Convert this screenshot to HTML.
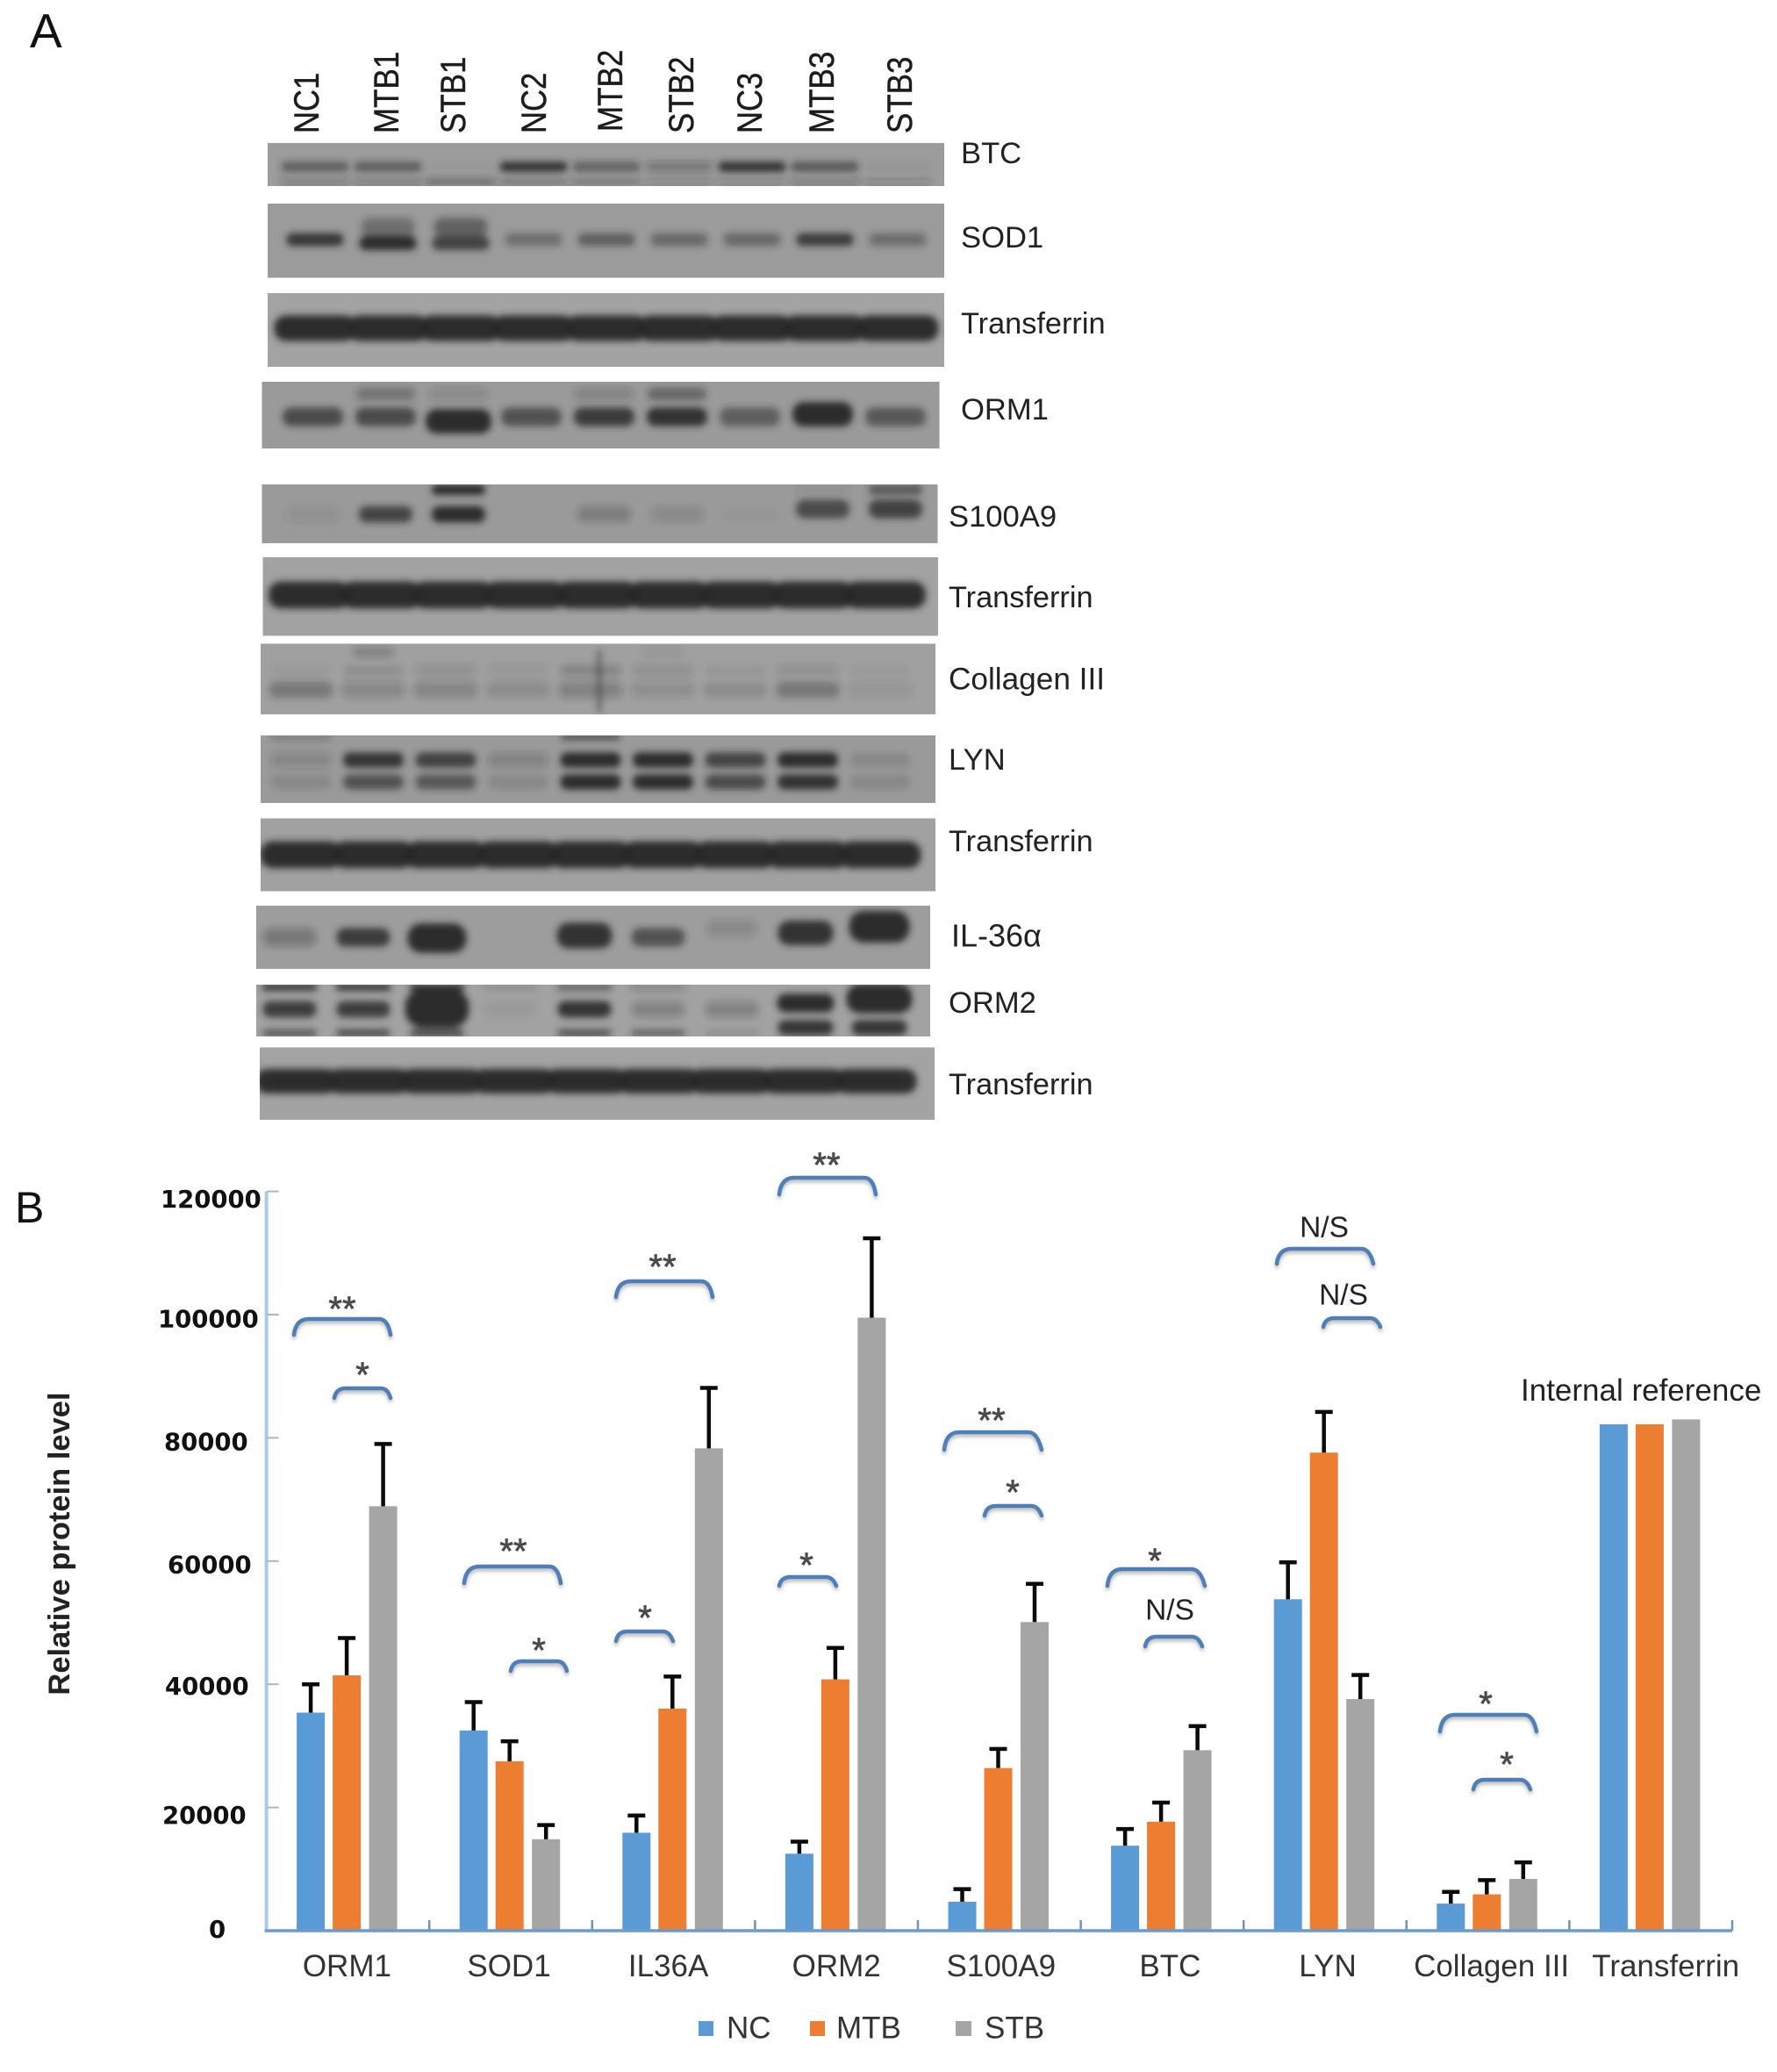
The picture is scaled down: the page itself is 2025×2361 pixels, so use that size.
<!DOCTYPE html>
<html lang="en">
<head>
<meta charset="utf-8">
<title>Western blots and relative protein levels</title>
<style>
html,body{margin:0;padding:0;background:#fff;}
svg{display:block;font-family:"Liberation Sans",Arial,sans-serif;}
.blot-label{font-size:34.6px;fill:#222;dominant-baseline:central;}
.tf{font-size:34.3px;}
.lane{font-size:33px;fill:#1c1c1c;stroke:#1c1c1c;stroke-width:.35px;}
.sig{font-size:40px;fill:#4a4a4a;stroke:#4a4a4a;stroke-width:.7px;text-anchor:middle;}
.ns{font-size:33.5px;fill:#222;text-anchor:middle;dominant-baseline:central;}
.bracket{fill:none;stroke:#4f7fb8;stroke-width:4.5;stroke-linecap:round;filter:drop-shadow(0 3px 2px rgba(90,90,90,.45));}
.legend-text{font-size:35px;fill:#333;dominant-baseline:central;}
</style>
</head>
<body>
<svg id="figure" xmlns="http://www.w3.org/2000/svg" width="2025" height="2361" viewBox="0 0 2025 2361">
  <defs>
    <filter id="soft" x="-10%" y="-30%" width="120%" height="160%"><feGaussianBlur stdDeviation="4"/></filter>
  </defs>
  <rect width="2025" height="2361" fill="#fff"/>

  <text x="34" y="54" font-size="55" fill="#111">A</text>
  <text x="17" y="1393" font-size="50" fill="#111">B</text>

  <g id="lanes">
    <text class="lane" transform="translate(363,152) rotate(-90) scale(1.05,1.22)">NC1</text>
    <text class="lane" transform="translate(454,152) rotate(-90) scale(1.06,1.22)">MTB1</text>
    <text class="lane" transform="translate(530,152) rotate(-90) scale(1.06,1.22)">STB1</text>
    <text class="lane" transform="translate(622,152) rotate(-90) scale(1.05,1.22)">NC2</text>
    <text class="lane" transform="translate(709,150) rotate(-90) scale(1.06,1.22)">MTB2</text>
    <text class="lane" transform="translate(790,152) rotate(-90) scale(1.06,1.22)">STB2</text>
    <text class="lane" transform="translate(868,152) rotate(-90) scale(1.05,1.22)">NC3</text>
    <text class="lane" transform="translate(950,152) rotate(-90) scale(1.06,1.22)">MTB3</text>
    <text class="lane" transform="translate(1039,152) rotate(-90) scale(1.06,1.22)">STB3</text>
  </g>

  <g id="blots"></g>

  <g>
    <text class="blot-label" x="1095" y="175">BTC</text>
    <text class="blot-label" x="1095" y="271">SOD1</text>
    <text class="blot-label tf" x="1095" y="369">Transferrin</text>
    <text class="blot-label" x="1095" y="467">ORM1</text>
    <text class="blot-label" x="1081" y="589">S100A9</text>
    <text class="blot-label tf" x="1081" y="681">Transferrin</text>
    <text class="blot-label" x="1081" y="774" style="font-size:35.2px">Collagen III</text>
    <text class="blot-label" x="1081" y="866">LYN</text>
    <text class="blot-label tf" x="1081" y="959">Transferrin</text>
    <text class="blot-label" x="1084" y="1066" style="font-size:36px">IL-36α</text>
    <text class="blot-label" x="1081" y="1143">ORM2</text>
    <text class="blot-label tf" x="1081" y="1236">Transferrin</text>
  </g>

  <text transform="translate(79,1759) rotate(-90)" text-anchor="middle" font-size="34.5" font-weight="bold" fill="#222">Relative protein level</text>

  <g id="chart"></g>

  <g>
    <path class="bracket" d="M335,1521 Q337,1503 352,1503 L432,1503 Q442,1503 445,1521"/>
    <text class="sig" x="390" y="1505">**</text>
    <path class="bracket" d="M381,1593 Q383,1582 394,1582 L434,1582 Q442,1582 445,1593"/>
    <text class="sig" x="413" y="1580">*</text>

    <path class="bracket" d="M529,1804 Q531,1785 546,1785 L626,1785 Q636,1785 639,1804"/>
    <text class="sig" x="585" y="1781">**</text>
    <path class="bracket" d="M582,1904 Q584,1893 595,1893 L635,1893 Q643,1893 646,1904"/>
    <text class="sig" x="614" y="1894">*</text>

    <path class="bracket" d="M702,1478 Q704,1460 719,1460 L799,1460 Q809,1460 812,1478"/>
    <text class="sig" x="755" y="1457">**</text>
    <path class="bracket" d="M702,1870 Q704,1859 715,1859 L755,1859 Q763,1859 767,1870"/>
    <text class="sig" x="735" y="1857">*</text>

    <path class="bracket" d="M888,1361 Q890,1342 905,1342 L985,1342 Q995,1342 998,1361"/>
    <text class="sig" x="942" y="1341">**</text>
    <path class="bracket" d="M888,1807 Q890,1797 901,1797 L941,1797 Q949,1797 953,1807"/>
    <text class="sig" x="919" y="1797">*</text>

    <path class="bracket" d="M1076,1652 Q1078,1632 1093,1632 L1172,1632 Q1182,1632 1187,1652"/>
    <text class="sig" x="1130" y="1632">**</text>
    <path class="bracket" d="M1122,1727 Q1124,1716 1135,1716 L1175,1716 Q1183,1716 1187,1727"/>
    <text class="sig" x="1154" y="1714">*</text>

    <path class="bracket" d="M1262,1807 Q1264,1788 1279,1788 L1358,1788 Q1368,1788 1373,1807"/>
    <text class="sig" x="1316" y="1792">*</text>
    <path class="bracket" d="M1305,1876 Q1307,1865 1318,1865 L1358,1865 Q1366,1865 1370,1876"/>
    <text class="ns" x="1333" y="1835">N/S</text>

    <path class="bracket" d="M1455,1440 Q1457,1423 1472,1423 L1551,1423 Q1561,1423 1565,1440"/>
    <text class="ns" x="1509" y="1399">N/S</text>
    <path class="bracket" d="M1508,1512 Q1510,1502 1521,1502 L1561,1502 Q1569,1502 1573,1512"/>
    <text class="ns" x="1531" y="1476">N/S</text>

    <path class="bracket" d="M1641,1973 Q1643,1954 1658,1954 L1737,1954 Q1747,1954 1751,1973"/>
    <text class="sig" x="1693" y="1955">*</text>
    <path class="bracket" d="M1679,2039 Q1681,2028 1692,2028 L1732,2028 Q1740,2028 1744,2039"/>
    <text class="sig" x="1717" y="2024">*</text>
  </g>

  <text x="1733" y="1596" font-size="35" fill="#222">Internal reference</text>

  <g>
    <rect x="796" y="2303" width="17" height="17" fill="#5b9bd5"/>
    <text class="legend-text" x="828" y="2311">NC</text>
    <rect x="923" y="2303" width="17" height="17" fill="#ed7d31"/>
    <text class="legend-text" x="953" y="2311">MTB</text>
    <rect x="1089" y="2303" width="18" height="17" fill="#a5a5a5"/>
    <text class="legend-text" x="1122" y="2311">STB</text>
  </g>
</svg>

<script>
/* ---------- chart data ---------- */
const categories = ["ORM1","SOD1","IL36A","ORM2","S100A9","BTC","LYN","Collagen III","Transferrin"];
const ncValues  = [35400,32500,15900,12500,4700,13800,53800,4400,82200];
const mtbValues = [41450,27500,36050,40800,26400,17700,77600,5900,82200];
const stbValues = [68900,14850,78300,99500,50100,29300,37600,8400,83000];
const ncErrors  = [4600,4600,2800,1960,2050,2700,6000,1900,0];
const mtbErrors = [6050,3250,5200,5100,3100,3100,6600,2300,0];
const stbErrors = [10100,2300,9800,12900,6200,3900,3900,2700,0];
const yTickValues = [0,20000,40000,60000,80000,100000,120000];
/* hand-placement offsets of the printed labels in the source figure */
const categoryLabelNudge = [-1,-2,-6,0,2,9,3,4,17];
const yLabelNudgeX = [-1,-1,2,5,1,-6,-3];
const yLabelNudgeY = [6,16.5,10,11.5,12,12.5,16.5];

/* ---------- western blot bands ---------- */
const blotRows = [
 {n:"btc",x:305,y:163,w:771,h:49,bg:"#9c9c9c",l0:54,st:83,bands:[
  {cy:190,h:8,w:70,o:[.55,.55,.03,.9,.5,.3,.9,.6,.05]},
  {cy:207,h:4,w:72,o:[.3,.3,.45,.35,.35,.2,.2,.3,.2]}]},
 {n:"sod1",x:305,y:232,w:771,h:84.5,bg:"#9b9b9b",l0:54,st:83,bands:[
  {cy:273,h:10,w:58,o:[.9,0,0,.4,.55,.45,.45,.85,.42]},
  {cy:277,h:11,w:58,o:[0,1,.8,0,0,0,0,0,0]},
  {cy:259,h:15,w:54,o:[0,.4,.5,0,0,0,0,0,0]}]},
 {n:"transferrin-1",x:305,y:334,w:771,h:84,bg:"#a3a3a3",l0:54,st:83,bands:[
  {cy:374,h:21,w:86,o:[1,1,1,1,1,1,1,1,1]}]},
 {n:"orm1",x:298.5,y:435,w:772,h:76,bg:"#9a9a9a",l0:58,st:83,bands:[
  {cy:475,h:15,w:62,o:[.7,.7,0,.65,.85,.95,.55,0,.6]},
  {cy:480,h:20,w:68,o:[0,0,1,0,0,0,0,0,0]},
  {cy:472,h:20,w:62,o:[0,0,0,0,0,0,0,1,0]},
  {cy:449,h:10,w:60,o:[0,.35,.15,0,.2,.45,0,0,0]}]},
 {n:"s100a9",x:298.5,y:552,w:770,h:67,bg:"#9a9a9a",l0:58,st:83,bands:[
  {cy:586,h:13,w:54,o:[.1,.75,1,0,.25,.15,.03,0,0]},
  {cy:580,h:15,w:54,o:[0,0,0,0,0,0,0,.7,.8]},
  {cy:558,h:8,w:54,o:[0,0,1,0,0,0,0,.1,.6]}]},
 {n:"transferrin-2",x:299.5,y:635,w:769.5,h:89.5,bg:"#a2a2a2",l0:53,st:82,bands:[
  {cy:678,h:22,w:86,o:[1,1,1,1,1,1,1,1,1]}]},
 {n:"collagen-iii",x:297,y:733.5,w:769,h:80.5,bg:"#a0a0a0",l0:46,st:82.5,bands:[
  {cy:786,h:13,w:66,o:[.35,.2,.22,.17,.25,.15,.12,.35,.1]},
  {cy:764,h:8,w:62,o:[.05,.12,.15,.1,.25,.15,.07,.15,.05]},
  {cy:743,h:8,w:40,o:[0,.25,0,0,0,.1,0,0,0]}]},
 {n:"lyn",x:297,y:838,w:769,h:77,bg:"#9a9a9a",l0:46,st:82.5,bands:[
  {cy:866,h:12,w:62,o:[.18,.9,.8,.2,1,1,.75,1,.12]},
  {cy:891,h:12,w:62,o:[.12,.65,.6,.12,1,1,.7,.95,.12]},
  {cy:840,h:3,w:60,o:[.4,0,0,0,.9,0,0,0,0]}]},
 {n:"transferrin-3",x:297,y:932.5,w:769,h:83,bg:"#a1a1a1",l0:46,st:82.5,bands:[
  {cy:974,h:22,w:86,o:[1,1,1,1,1,1,1,1,1]}]},
 {n:"il36a",x:292,y:1032,w:768,h:72,bg:"#9d9d9d",l0:38,st:84,bands:[
  {cy:1068,h:15,w:54,o:[.3,.85,0,0,0,.65,0,0,0]},
  {cy:1069,h:24,w:60,o:[0,0,1,0,0,0,0,0,0]},
  {cy:1066,h:21,w:56,o:[0,0,0,0,.95,0,0,0,0]},
  {cy:1058,h:14,w:50,o:[0,0,0,0,0,0,.17,0,0]},
  {cy:1063,h:20,w:56,o:[0,0,0,0,0,0,0,.95,0]},
  {cy:1056,h:26,w:62,o:[0,0,0,0,0,0,0,0,1]}]},
 {n:"orm2",x:292,y:1122,w:768,h:59,bg:"#a2a2a2",l0:38,st:84,bands:[
  {cy:1150,h:13,w:54,o:[.85,.85,0,.05,.95,.25,.25,0,0]},
  {cy:1149,h:32,w:66,o:[0,0,1,0,0,0,0,0,0]},
  {cy:1143,h:15,w:58,o:[0,0,0,0,0,0,0,1,0]},
  {cy:1138,h:24,w:68,o:[0,0,0,0,0,0,0,0,1]},
  {cy:1125,h:5,w:56,o:[.95,.95,.95,.12,.5,.25,0,0,0]},
  {cy:1177,h:5,w:54,o:[.65,.75,.75,0,.7,.55,.12,0,0]},
  {cy:1171,h:12,w:56,o:[0,0,0,0,0,0,0,.9,.9]}]},
 {n:"transferrin-4",x:296,y:1193.5,w:769,h:82.5,bg:"#a3a3a3",l0:42,st:82.5,bands:[
  {cy:1232,h:20,w:86,o:[1,1,1,1,1,1,1,1,1]}]}
];

const SVGNS = "http://www.w3.org/2000/svg";
function make(tag, attrs, parent){
  const node = document.createElementNS(SVGNS, tag);
  for (const k in attrs) node.setAttribute(k, attrs[k]);
  parent.appendChild(node);
  return node;
}

/* ---------- blots ---------- */
const blotsGroup = document.getElementById("blots");
const defs = document.querySelector("defs");
blotRows.forEach(function(b){
  const clip = make("clipPath", {id:"clip-"+b.n}, defs);
  make("rect", {x:b.x,y:b.y,width:b.w,height:b.h}, clip);
  const g = make("g", {"clip-path":"url(#clip-"+b.n+")"}, blotsGroup);
  
  
  make("rect", {x:b.x,y:b.y,width:b.w,height:b.h,fill:b.bg}, g);
  const inner = make("g", {filter:"url(#soft)"}, g);
  b.bands.forEach(function(band){
    band.o.forEach(function(op,i){
      if (op <= 0) return;
      const cx = b.x + b.l0 + b.st * i;
      const h = band.h * 1.35 + 1;
      const w = band.w + 7;
      make("rect", {x:cx-w/2, y:band.cy-h/2, width:w, height:h, rx:h/2.2, fill:"#262626", opacity:op*0.96}, inner);
    });
  });
  if (b.n === "collagen-iii") {
    make("rect", {x:681,y:741,width:4,height:70,fill:"#333",opacity:.7}, inner);
  }
});

/* ---------- chart ---------- */
const chart = document.getElementById("chart");
const axisLeft = 303.6, axisRight = 1974, axisBottom = 2200, axisTop = 1357.6, yMax = 120000;
const bandWidth = (axisRight - axisLeft) / categories.length;
const barWidth = 32;
const seriesOffsets = [34.5, 75.5, 117];
const seriesNames = ["nc","mtb","stb"];
const seriesColors = ["#5b9bd5","#ed7d31","#a5a5a5"];
const seriesValues = [ncValues, mtbValues, stbValues];
const seriesErrors = [ncErrors, mtbErrors, stbErrors];
function yScale(v){ return axisBottom - v * (axisBottom - axisTop) / yMax; }
function bandStart(i){ return axisLeft + bandWidth * i; }

const yAxis = make("line", {x1:axisLeft,y1:axisTop,x2:axisLeft,y2:axisBottom,stroke:"#a9cbe8","stroke-width":4}, chart);



yTickValues.forEach(function(t,k){
  const y = yScale(t);
  if (t > 0) {
    const tick = make("line", {x1:axisLeft,y1:y,x2:axisLeft+14,y2:y,stroke:"#a4b8cc","stroke-width":2}, chart);
    
    
  }
  const label = make("text", {x:(t === 0 ? 239 : 186) + yLabelNudgeX[k], y:y + yLabelNudgeY[k] + 2, "font-family":"DejaVu Sans, sans-serif","font-weight":"bold","font-size":27.5, fill:"#111"}, chart);
  
  
  label.textContent = String(t);
});

categories.forEach(function(cat,i){
  const start = bandStart(i);
  seriesValues.forEach(function(vals,s){
    const x = start + seriesOffsets[s];
    const top = yScale(vals[i]);
    const bar = make("rect", {x:x,y:top,width:barWidth,height:axisBottom-top,fill:seriesColors[s]}, chart);
    
    
    const err = seriesErrors[s][i];
    if (err > 0) {
      const cx = x + barWidth/2;
      const errTop = yScale(vals[i] + err);
      const stem = make("line", {x1:cx,y1:top,x2:cx,y2:errTop,stroke:"#0a0a0a","stroke-width":4.5}, chart);
      
      
      const cap = make("line", {x1:cx-10,y1:errTop,x2:cx+10,y2:errTop,stroke:"#0a0a0a","stroke-width":4.5}, chart);
      
      
    }
  });
  const label = make("text", {x:start+bandWidth/2+categoryLabelNudge[i], y:2252, "text-anchor":"middle","font-size":35, fill:"#333"}, chart);
  
  
  label.textContent = cat;
  const tx = bandStart(i+1);
  const tick = make("line", {x1:tx,y1:axisBottom,x2:tx,y2:axisBottom-12,stroke:"#6f93b5","stroke-width":2.5}, chart);
  
  
});

const xAxis = make("line", {x1:axisLeft-2,y1:axisBottom,x2:axisRight,y2:axisBottom,stroke:"#6a9bcb","stroke-width":3.5}, chart);


</script>
</body>
</html>
